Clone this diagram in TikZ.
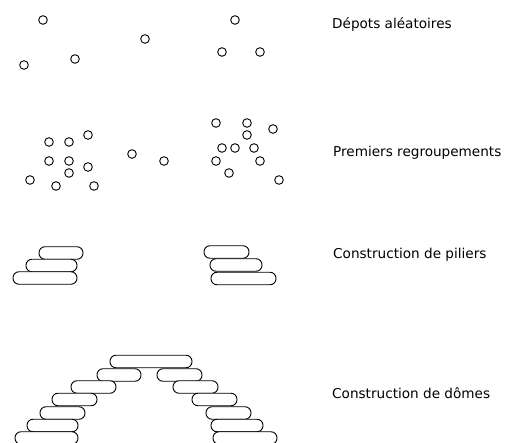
\documentclass[tikz,border=0pt]{standalone}
\usepackage{fontspec}
\setmainfont{DejaVu Sans}
\begin{document}
\begin{tikzpicture}[x=1pt,y=-1pt,
  grain/.style={circle,draw,line width=0.9pt,minimum size=8.6pt,inner sep=0pt},
  pill/.style={draw,fill=white,line width=0.9pt,rounded corners=6pt,minimum height=12.5pt,inner sep=0pt},
  stage/.style={anchor=base west,font=\fontsize{13.6}{16}\selectfont,inner sep=0pt}]
\useasboundingbox (0,0) rectangle (514,443);
\clip (0,0) rectangle (514,443);

% random deposits
\foreach \x/\y [count=\i] in {43/20,24/65,75/59,145/39,235/20,222/52,260/52}
  \node[grain] (d\i) at (\x,\y) {};

% first clusters
\foreach \x/\y [count=\i] in {49/142,69/142,88/135,49/161,69/161,88/167,69/173,30/180,56/186,94/186,
  132/154,164/161,
  216/123,247/123,273/129,247/135,222/148,235/148,254/148,216/161,260/161,229/173,279/180}
  \node[grain] (g\i) at (\x,\y) {};

% pillars: left end / right end / centre line
\foreach \a/\b/\y [count=\i] in {39/83/253,26/77/265.5,13/77/278,
  204/249/252,210/262/265,211/276/278.5}
  \node[pill,minimum width=\b-\a] (p\i) at ({(\a+\b)/2},\y) {};

% domes
\foreach \a/\b/\y [count=\i] in {110/192/361.5,
  97/141/375,157/202/375,
  71/116/387,173/218/387,
  52/97/399.5,192/237/399.5,
  40/85/413,206/251/413,
  27/78/425.5,211/263/425.5,
  15/78/438,213/277/438}
  \node[pill,minimum width=\b-\a] (m\i) at ({(\a+\b)/2},\y) {};

\node[stage] (t1) at (332,29) {Dépots aléatoires};
\node[stage] (t2) at (333,157) {Premiers regroupements};
\node[stage] (t3) at (333,259) {Construction de piliers};
\node[stage] (t4) at (332,399) {Construction de dômes};
\end{tikzpicture}
\end{document}
